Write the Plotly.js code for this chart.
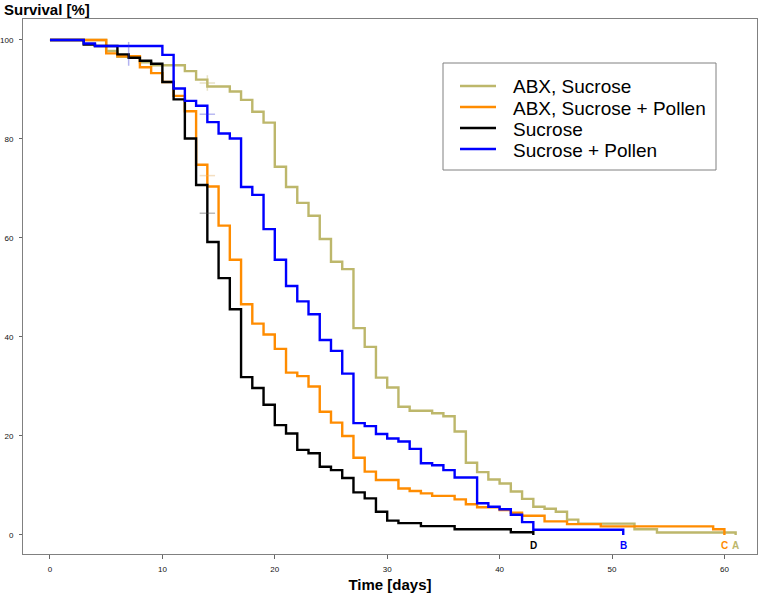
<!DOCTYPE html>
<html><head><meta charset="utf-8">
<script src="https://cdn.plot.ly/plotly-3.0.1.min.js"></script>
<style>html,body{margin:0;padding:0;background:#fff}#chart{width:765px;height:596px}</style>
</head><body><div id="chart"></div>
<script>
// ---- data ----
const seriesNames = ["ABX, Sucrose", "ABX, Sucrose + Pollen", "Sucrose", "Sucrose + Pollen"];
const endLabels = ["A", "C", "D", "B"];

const abxSucDays = [0, 5, 6, 8, 9, 12, 13, 14, 16, 17, 18, 19, 20, 21, 22, 23, 24, 25, 26, 27, 28, 29, 30, 31, 32, 34, 35, 36, 37, 38, 39, 40, 41, 42, 43, 44, 45, 46, 47, 52, 54, 61];
const abxSucSurv = [100, 97.8, 96.6, 95.5, 94.9, 93.7, 92.0, 90.6, 89.6, 87.9, 85.5, 83.3, 74.4, 70.3, 67.1, 64.5, 59.8, 55.2, 53.7, 41.8, 38.0, 31.8, 29.8, 25.9, 25.1, 24.6, 24.0, 20.9, 14.6, 12.7, 11.2, 10.4, 8.8, 7.3, 5.7, 5.3, 4.7, 3.1, 2.3, 1.15, 0.5, 0];

const abxPolDays = [0, 5, 6, 8, 9, 10, 11, 12, 13, 14, 15, 16, 17, 18, 19, 20, 21, 22, 23, 24, 25, 26, 27, 28, 29, 31, 32, 33, 34, 36, 37, 38, 40, 41, 42, 44, 46, 49, 59, 60];
const abxPolSurv = [100, 97.3, 96.7, 94.5, 93.3, 91.5, 88.7, 85.6, 74.8, 70.4, 62.5, 55.6, 46.6, 42.7, 40.5, 37.6, 32.8, 32.1, 30.0, 24.9, 22.7, 20.0, 15.6, 12.8, 11.1, 9.4, 8.9, 8.4, 7.9, 7.2, 6.2, 5.6, 5.05, 4.5, 3.9, 2.75, 2.2, 1.75, 1.15, 0];

const sucDays = [0, 3, 4, 6, 7, 8, 9, 10, 11, 12, 13, 14, 15, 16, 17, 18, 19, 20, 21, 22, 23, 24, 25, 26, 27, 28, 29, 30, 31, 33, 36, 41, 43];
const sucSurv = [100, 99.1, 98.8, 97.1, 96.4, 95.8, 95.2, 91.5, 88.0, 80.1, 70.7, 59.2, 51.9, 45.6, 31.9, 29.7, 26.3, 22.2, 20.5, 17.2, 16.5, 13.8, 13.1, 11.5, 8.6, 7.4, 4.7, 2.9, 2.4, 1.8, 1.15, 0.55, 0];

const sucPolDays = [0, 3, 4, 10, 11, 12, 13, 14, 15, 16, 17, 18, 19, 20, 21, 22, 23, 24, 25, 26, 27, 28, 29, 30, 31, 32, 33, 34, 35, 36, 38, 39, 40, 41, 42, 43, 51];
const sucPolSurv = [100, 99.3, 98.8, 97.0, 90.2, 87.7, 86.7, 83.4, 81.1, 80.1, 70.3, 68.7, 61.8, 55.6, 50.3, 47.2, 44.6, 39.4, 37.2, 32.6, 22.6, 22.0, 20.4, 19.5, 18.9, 17.4, 14.5, 14.1, 13.1, 11.6, 6.4, 5.7, 5.2, 4.1, 2.6, 1.05, 0];

// faint marks seen on the curves
const markDays = [7, 14, 14, 14, 14];
const markVals = [97.2, 91.3, 85.0, 72.6, 65.0];
const markSymbols = ["line-ns", "cross-thin", "line-ew", "line-ew", "line-ew"];
const markColors = ["rgba(60,60,220,0.55)", "rgba(200,190,120,0.6)", "rgba(60,60,220,0.5)", "rgba(230,180,110,0.6)", "rgba(80,80,80,0.55)"];
const markSizes = [17, 11, 11, 11, 11];

const xTicks = [0, 10, 20, 30, 40, 50, 60];
const yTicks = [0, 20, 40, 60, 80, 100];

// ---- chart ----
const colors = ["#BDB76B", "#FF8C00", "#000000", "#0000FF"];
const days = [abxSucDays, abxPolDays, sucDays, sucPolDays];
const surv = [abxSucSurv, abxPolSurv, sucSurv, sucPolSurv];
const FONT = "Liberation Sans, Arial, sans-serif";

const traces = seriesNames.map((n, i) => ({
  type: "scatter", mode: "lines", name: n, x: days[i], y: surv[i],
  line: {shape: "hv", color: colors[i], width: 2.4}, showlegend: false, hoverinfo: "skip"
}));
traces.push({
  type: "scatter", mode: "markers", x: markDays, y: markVals, showlegend: false, hoverinfo: "skip",
  marker: {symbol: markSymbols, size: markSizes, color: markColors, line: {color: markColors, width: 1.5}}
});

const annotations = [];
const shapes = [];
// end-of-curve letters
seriesNames.forEach((n, i) => {
  const d = days[i];
  annotations.push({x: d[d.length - 1], y: -2.1, xref: "x", yref: "y", text: "<b>" + endLabels[i] + "</b>",
    showarrow: false, font: {family: FONT, size: 10, color: colors[i]}, xanchor: "center", yanchor: "middle"});
});
// y title at top-left
annotations.push({xref: "paper", yref: "paper", x: -0.0286, y: 1.017, xanchor: "left", yanchor: "middle",
  text: "<b>Survival [%]</b>", showarrow: false, font: {family: FONT, size: 15, color: "#000"}});

// manual legend box
const W = 734, H = 535, L = 23, T = 19;
const px = v => (v - L) / W, py = v => 1 - (v - T) / H;
shapes.push({type: "rect", xref: "paper", yref: "paper", x0: px(443), x1: px(716), y0: py(170), y1: py(63),
  line: {color: "#808080", width: 1}, fillcolor: "rgba(0,0,0,0)"});
seriesNames.forEach((n, i) => {
  const yc = 86 + i * 21;
  shapes.push({type: "line", xref: "paper", yref: "paper", x0: px(460), x1: px(496), y0: py(yc), y1: py(yc),
    line: {color: colors[i], width: 2.5}});
  annotations.push({xref: "paper", yref: "paper", x: px(511), y: py(yc + 1), xanchor: "left", yanchor: "middle",
    text: n, showarrow: false, font: {family: FONT, size: 19, color: "#000"}});
});

const axisCommon = {
  showline: true, mirror: true, linecolor: "#808080", linewidth: 1, showgrid: false, zeroline: false,
  ticks: "outside", tickcolor: "#666", tickwidth: 1, tickfont: {family: FONT, size: 8, color: "#111"},
  tickmode: "array"
};
const layout = {
  width: 765, height: 596, paper_bgcolor: "#fff", plot_bgcolor: "#fff",
  margin: {l: 23, r: 8, t: 19, b: 42},
  xaxis: Object.assign({}, axisCommon, {range: [-2.4, 62.9], tickvals: xTicks, ticktext: xTicks.map(String), ticklen: 4,
    ticklabelstandoff: 3,
    title: {text: "<b>Time [days]</b>", font: {family: FONT, size: 15, color: "#000"}, standoff: 6}}),
  yaxis: Object.assign({}, axisCommon, {range: [-3.84, 104.24], tickvals: yTicks, ticktext: yTicks.map(String), ticklen: 3,
    ticklabelstandoff: 4}),
  annotations: annotations, shapes: shapes, showlegend: false
};
Plotly.newPlot("chart", traces, layout, {staticPlot: true, displayModeBar: false});
</script></body></html>
